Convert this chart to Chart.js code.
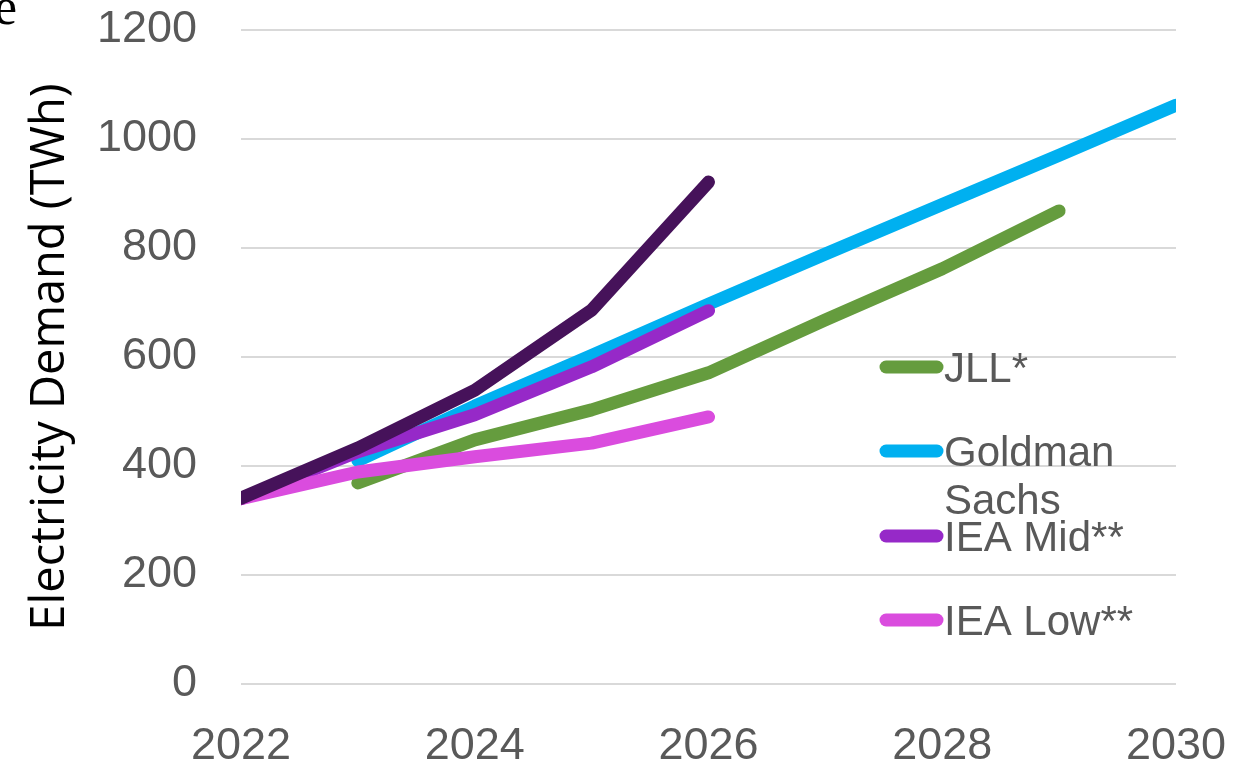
<!DOCTYPE html>
<html>
<head>
<meta charset="utf-8">
<script src="https://cdn.jsdelivr.net/npm/chart.js@4.4.1/dist/chart.umd.min.js"></script>
<style>
  body { margin: 0; background: #fff; }
  #wrap { width: 1248px; height: 761px; position: relative; }
</style>
</head>
<body>
<div id="wrap"><canvas id="myChart"></canvas></div>
<script>
// years on the x axis
const years = [2022, 2023, 2024, 2025, 2026, 2027, 2028, 2029, 2030];

// electricity demand forecasts, TWh (null = no value that year)
const jll      = [null, 369, 448, 503, 571, 668, 762, 868, null];
const goldman  = [null, 410, 510, 603, 697, 789, 880, 970, 1062];
const ieaMid   = [340, 426, 494, 582, 685, null, null, null, null];
const ieaLow   = [340, 389, 417, 442, 490, null, null, null, null];
const ieaHigh  = [341, 433, 539, 686, 921, null, null, null, null];

const yTicks = [0, 200, 400, 600, 800, 1000, 1200];

const tickGrey = '#595959';
const sans = '"Liberation Sans", Arial, sans-serif';

// legend drawn by hand, inside the plot on the right
const legendPlugin = {
  id: 'sideLegend',
  afterDraw(chart) {
    const ctx = chart.ctx;
    const items = [
      { text: ['JLL*'], color: '#659C3E', y: 367 },
      { text: ['Goldman', 'Sachs'], color: '#00B0F0', y: 451 },
      { text: ['IEA Mid**'], color: '#9629C8', y: 536 },
      { text: ['IEA Low**'], color: '#DA4CDE', y: 620 }
    ];
    ctx.save();
    ctx.lineCap = 'round';
    ctx.lineWidth = 13;
    ctx.font = '42px ' + sans;
    ctx.fillStyle = tickGrey;
    ctx.textBaseline = 'alphabetic';
    items.forEach(it => {
      ctx.strokeStyle = it.color;
      ctx.beginPath();
      ctx.moveTo(886, it.y);
      ctx.lineTo(937, it.y);
      ctx.stroke();
      it.text.forEach((t, i) => {
        ctx.fillText(t, 944, it.y + 15 + i * 48);
      });
    });
    // cut-off letter left over in the top corner
    ctx.fillStyle = '#000';
    ctx.font = '52px "Liberation Serif", serif';
    ctx.fillText('e', -6, 24);
    ctx.restore();
  }
};

const ctx = document.getElementById('myChart').getContext('2d');

const mkLine = (label, data, color, order) => ({
  label: label,
  data: data,
  borderColor: color,
  backgroundColor: color,
  borderWidth: 13,
  borderCapStyle: 'round',
  borderJoinStyle: 'round',
  pointRadius: 0,
  tension: 0,
  spanGaps: false,
  clip: 0,
  order: order
});

new Chart(ctx, {
  type: 'line',
  data: {
    labels: years,
    datasets: [
      mkLine('JLL*', jll, '#659C3E', 4),
      mkLine('Goldman Sachs', goldman, '#00B0F0', 3),
      mkLine('IEA Mid**', ieaMid, '#9629C8', 2),
      mkLine('IEA Low**', ieaLow, '#DA4CDE', 1),
      mkLine('IEA High**', ieaHigh, '#46125A', 0)
    ]
  },
  options: {
    responsive: true,
    maintainAspectRatio: false,
    animation: false,
    layout: { padding: { left: 0, right: 72, top: 30, bottom: 0 } },
    plugins: {
      legend: { display: false },
      tooltip: { enabled: false }
    },
    scales: {
      x: {
        type: 'category',
        offset: false,
        grid: { display: false, drawTicks: false },
        border: { display: false },
        ticks: {
          autoSkip: false,
          maxRotation: 0,
          padding: 36,
          color: tickGrey,
          font: { family: sans, size: 45 },
          callback: function (v, i) { return years[i] % 2 === 0 ? String(years[i]) : ''; }
        },
        afterFit: function (scale) {
          scale.height = 77;
          scale.paddingLeft = 0;
          scale.paddingRight = 0;
        }
      },
      y: {
        min: 0,
        max: 1200,
        afterBuildTicks: function (scale) { scale.ticks = yTicks.map(v => ({ value: v })); },
        grid: { color: '#D9D9D9', lineWidth: 2, drawTicks: false },
        border: { display: false },
        ticks: {
          padding: 44,
          color: tickGrey,
          font: { family: sans, size: 45 },
          callback: function (v) { return String(v); }
        },
        title: {
          display: true,
          text: 'Electricity Demand (TWh)',
          color: '#000',
          font: { family: '"Open Sans", sans-serif', size: 47 },
          padding: { top: 22, bottom: 0 }
        },
        afterFit: function (scale) {
          scale.width = 241;
          scale.paddingTop = 0;
          scale.paddingBottom = 0;
        }
      }
    }
  },
  plugins: [legendPlugin]
});
</script>
</body>
</html>
